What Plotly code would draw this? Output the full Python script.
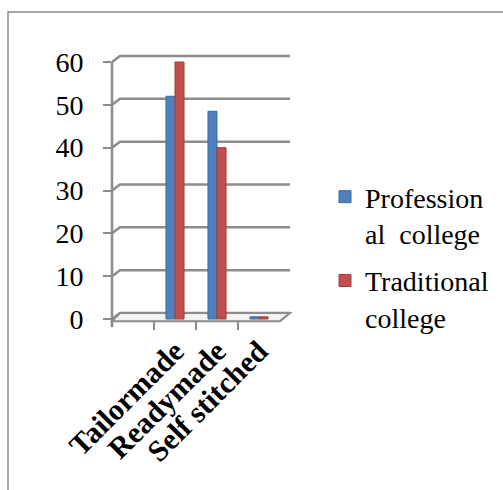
import plotly.graph_objects as go

# Survey results: preference of dress type by college group (%)
categories = ["Tailormade", "Readymade", "Self stitched"]
professional = [52, 48.5, 0.5]
traditional = [60, 40, 0.5]
y_ticks = [0, 10, 20, 30, 40, 50, 60]

W, H = 503, 490
BLUE = "#4F81BD"
RED = "#C0504D"
GRID = "#8c8c8c"
FONT = "Liberation Serif"


def px_x(p):
    return p / W


def px_y(p):
    return 1 - p / H


# plot geometry (pixels) and 3D wall offset
X_FRONT, X_FRONT_END, X_BACK_END = 112, 280, 290
Y_ZERO, Y_TOP = 319, 62
Y_MIN, Y_MAX = -2.5, 63
unit = (Y_ZERO - Y_TOP) / 60.0
DEPTH_X = 8
DEPTH_Y = 6 / unit

fig = go.Figure()
fig.add_trace(go.Bar(
    x=categories, y=professional, name="Profession<br>al  college",
    marker=dict(color=BLUE, line=dict(color="#3a6aa3", width=1)),
    legendgroup="a",
))
fig.add_trace(go.Bar(
    x=categories, y=traditional, name="Traditional<br>college",
    marker=dict(color=RED, line=dict(color="#a03c39", width=1)),
    legendgroup="b",
))

shapes = []
# back-wall gridlines with their diagonal link to the front axis
for v in y_ticks:
    shapes.append(dict(
        type="path", xref="paper", yref="y",
        path=f"M {px_x(X_FRONT)},{v} L {px_x(X_FRONT + DEPTH_X)},{v + DEPTH_Y} L {px_x(X_BACK_END)},{v + DEPTH_Y}",
        line=dict(color=GRID, width=2.5), layer="below",
    ))
# floor slab
shapes.append(dict(
    type="path", xref="paper", yref="y",
    path=(f"M {px_x(X_FRONT)},{-0.5} L {px_x(X_FRONT_END)},{-0.5} "
          f"L {px_x(X_BACK_END)},{DEPTH_Y} L {px_x(X_FRONT + DEPTH_X)},{DEPTH_Y} Z"),
    line=dict(color=GRID, width=2), fillcolor="#f2f2f2", layer="below",
))
# front vertical axis
shapes.append(dict(
    type="line", xref="paper", yref="y",
    x0=px_x(X_FRONT), x1=px_x(X_FRONT), y0=-1.9, y1=60,
    line=dict(color=GRID, width=2.5), layer="below",
))
# outer frame
shapes.append(dict(
    type="rect", xref="paper", yref="paper",
    x0=px_x(8), y0=-0.05, x1=1.05, y1=px_y(12),
    line=dict(color="#8a8a8a", width=1.5), fillcolor="rgba(0,0,0,0)",
))

y_dom0 = px_y(Y_ZERO + (0 - Y_MIN) * unit)
y_dom1 = px_y(Y_TOP - (Y_MAX - 60) * unit)

fig.update_layout(
    width=W, height=H,
    margin=dict(l=0, r=0, t=0, b=0),
    paper_bgcolor="white", plot_bgcolor="rgba(0,0,0,0)",
    barmode="group", bargap=0.57, bargroupgap=0,
    shapes=shapes,
    font=dict(family=FONT, size=28, color="black"),
    showlegend=True,
    legend=dict(
        x=px_x(325), y=px_y(172), xanchor="left", yanchor="top",
        font=dict(family=FONT, size=28, color="black"),
        valign="top", tracegroupgap=8, bgcolor="rgba(0,0,0,0)",
        itemwidth=30,
    ),
    xaxis=dict(
        domain=[px_x(X_FRONT), px_x(X_FRONT_END)],
        range=[-1.5, 2.5], type="category",
        showgrid=False, showline=False, zeroline=False,
        ticks="inside", tickson="boundaries", ticklen=8, tickwidth=2, tickcolor=GRID,
        tickangle=-45,
        tickfont=dict(family=FONT, size=30, color="black", weight="bold"),
        ticklabelstandoff=-3, automargin=False,
    ),
    yaxis=dict(
        domain=[y_dom0, y_dom1], range=[Y_MIN, Y_MAX],
        tickvals=y_ticks, showgrid=False, showline=False, zeroline=False,
        ticks="outside", ticklen=8, tickwidth=2, tickcolor=GRID,
        tickfont=dict(family=FONT, size=28, color="black"),
        ticklabelstandoff=14, automargin=False,
    ),
)

fig.write_html("out.html")
